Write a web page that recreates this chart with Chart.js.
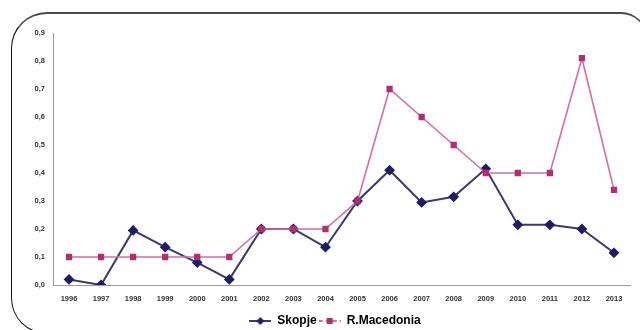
<!DOCTYPE html>
<html>
<head>
<meta charset="utf-8">
<script src="https://cdn.jsdelivr.net/npm/chart.js@4.4.1/dist/chart.umd.min.js"></script>
<style>
  html, body { margin: 0; padding: 0; background: #ffffff; }
  #wrap { position: relative; width: 640px; height: 330px; overflow: hidden; }
  #frame {
    position: absolute; left: 11px; top: 12px; width: 636px; height: 322px;
    border-top: 2px solid #4a4a4a; border-left: 1.5px solid #111; border-right: 1.5px solid #111;
    border-bottom: 1px solid #111;
    border-radius: 36px 26px 0 36px;
    box-sizing: border-box; pointer-events: none;
  }
  canvas { position: absolute; left: 0; top: 0; }
</style>
</head>
<body>
<div id="wrap">
  <canvas id="trendChart" width="640" height="330"></canvas>
  <div id="frame"></div>
</div>
<script>
const years = ["1996", "1997", "1998", "1999", "2000", "2001", "2002", "2003", "2004",
  "2005", "2006", "2007", "2008", "2009", "2010", "2011", "2012", "2013"];
const skopjeValues = [0.02, 0, 0.195, 0.135, 0.08, 0.02, 0.2, 0.2, 0.135,
  0.3, 0.41, 0.295, 0.315, 0.415, 0.215, 0.215, 0.2, 0.115];
const macedoniaValues = [0.1, 0.1, 0.1, 0.1, 0.1, 0.1, 0.2, 0.2, 0.2,
  0.3, 0.7, 0.6, 0.5, 0.4, 0.4, 0.4, 0.81, 0.34];
const yMax = 0.9;

const skopjeLine = "#3b3a6e";
const skopjeMark = "#1f1d63";
const macedoniaLine = "#d26fa4";
const macedoniaMark = "#b0306f";
const tickFont = { family: "'Liberation Sans', Arial, sans-serif", size: 7.5, weight: "bold" };

function makeLegendIcon(lineColor, markColor, dashed, shape) {
  const c = document.createElement("canvas");
  c.width = 22;
  c.height = 10;
  const ctx = c.getContext("2d");
  ctx.strokeStyle = lineColor;
  ctx.lineWidth = 2;
  if (dashed) ctx.setLineDash([4, 3]);
  ctx.beginPath();
  ctx.moveTo(0, 5);
  ctx.lineTo(22, 5);
  ctx.stroke();
  ctx.fillStyle = markColor;
  if (shape === "diamond") {
    ctx.beginPath();
    ctx.moveTo(11, 1);
    ctx.lineTo(15, 5);
    ctx.lineTo(11, 9);
    ctx.lineTo(7, 5);
    ctx.closePath();
    ctx.fill();
  } else {
    ctx.fillRect(8, 2, 6, 6);
  }
  return c;
}

const skopjeIcon = makeLegendIcon(skopjeLine, skopjeMark, false, "diamond");
const macedoniaIcon = makeLegendIcon(macedoniaLine, macedoniaMark, true, "square");

// the original legend sits a little right of the canvas centre
const legendShift = {
  id: "legendShift",
  afterLayout(chart) {
    chart.legend.left += 20;
    chart.legend.right += 20;
  }
};

new Chart(document.getElementById("trendChart"), {
  type: "line",
  data: {
    labels: years,
    datasets: [
      {
        label: "Skopje",
        data: skopjeValues,
        borderColor: skopjeLine,
        borderWidth: 2,
        pointStyle: "rectRot",
        pointRadius: 4,
        pointBackgroundColor: skopjeMark,
        pointBorderColor: skopjeMark,
        order: 1,
        tension: 0
      },
      {
        label: "R.Macedonia",
        data: macedoniaValues,
        borderColor: macedoniaLine,
        borderWidth: 1.6,
        pointStyle: "rect",
        pointRadius: 3.3,
        pointBackgroundColor: macedoniaMark,
        pointBorderColor: macedoniaMark,
        order: 0,
        tension: 0
      }
    ]
  },
  plugins: [legendShift],
  options: {
    responsive: false,
    animation: false,
    // negative bottom padding pushes the legend row down into the frame corner
    layout: { padding: { left: 0, top: 33, right: 10, bottom: -7 } },
    plugins: {
      tooltip: { enabled: false },
      legend: {
        position: "bottom",
        labels: {
          usePointStyle: true,
          pointStyleWidth: 22,
          padding: 2,
          color: "#222",
          font: { family: "'Liberation Sans', Arial, sans-serif", size: 12, weight: "bold" },
          generateLabels: () => [
            { text: "Skopje", pointStyle: skopjeIcon, fillStyle: skopjeMark, strokeStyle: skopjeLine, lineWidth: 0, datasetIndex: 0 },
            { text: "R.Macedonia", pointStyle: macedoniaIcon, fillStyle: macedoniaMark, strokeStyle: macedoniaLine, lineWidth: 0, datasetIndex: 1 }
          ]
        }
      }
    },
    scales: {
      x: {
        offset: true,
        afterFit: (scale) => { scale.height = 28; },
        grid: { display: false, drawTicks: true, tickLength: 3 },
        border: { color: "#9a9a9a", width: 1 },
        ticks: { color: "#333", font: tickFont, padding: 6, maxRotation: 0, autoSkip: false }
      },
      y: {
        min: 0,
        max: yMax,
        afterFit: (scale) => { scale.width = 53; },
        grid: { display: false, drawTicks: true, tickLength: 3 },
        border: { color: "#9a9a9a", width: 1 },
        ticks: {
          stepSize: 0.1,
          color: "#333",
          font: tickFont,
          padding: 5,
          callback: (value) => value.toFixed(1).replace(".", ",")
        }
      }
    }
  }
});
</script>
</body>
</html>
